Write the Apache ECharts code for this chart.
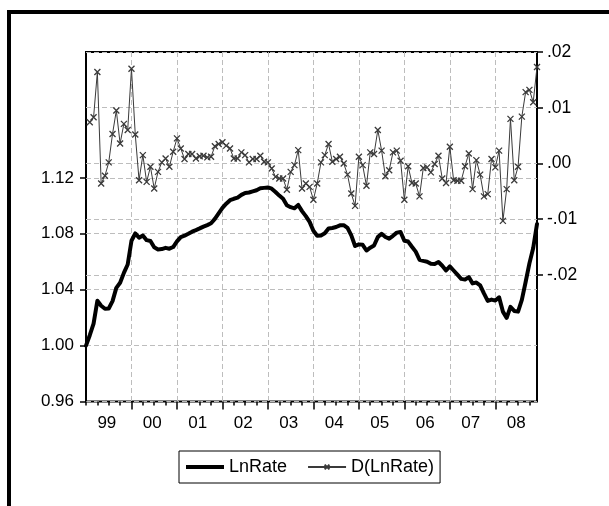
<!DOCTYPE html>
<html>
<head>
<meta charset="utf-8">
<title>LnRate and D(LnRate)</title>
<script src="https://cdn.jsdelivr.net/npm/echarts@6/dist/echarts.min.js"></script>
<style>
  html, body { margin: 0; padding: 0; background: #fff; }
  #chart { width: 609px; height: 506px; }
</style>
</head>
<body>
<div id="chart"></div>
<script>
// Monthly observations 1999M01 .. 2008M12 (index 0 .. 119)
const yearLabels = ['99', '00', '01', '02', '03', '04', '05', '06', '07', '08'];

// Log of the exchange rate, 1999M01 .. 2008M12
const lnRate = [
  1.0000, 1.0074, 1.0157, 1.0321, 1.0285, 1.0263, 1.0265, 1.0318, 1.0413, 1.0449, 1.0520, 1.0580,
  1.0750, 1.0802, 1.0772, 1.0787, 1.0754, 1.0748, 1.0703, 1.0688, 1.0690, 1.0699, 1.0693, 1.0705,
  1.0745, 1.0776, 1.0786, 1.0800, 1.0815, 1.0826, 1.0838, 1.0851, 1.0862, 1.0875, 1.0906, 1.0945,
  1.0985, 1.1015, 1.1040, 1.1050, 1.1058, 1.1078, 1.1092, 1.1095, 1.1103, 1.1111, 1.1125, 1.1128,
  1.1131, 1.1122, 1.1099, 1.1073, 1.1050, 1.1004, 1.0990, 1.0982, 1.1006, 1.0962, 1.0926, 1.0885,
  1.0821, 1.0786, 1.0788, 1.0803, 1.0838, 1.0841, 1.0848, 1.0860, 1.0861, 1.0842, 1.0788, 1.0712,
  1.0724, 1.0721, 1.0680, 1.0700, 1.0716, 1.0776, 1.0800, 1.0777, 1.0765, 1.0785, 1.0808, 1.0813,
  1.0750, 1.0744, 1.0707, 1.0672, 1.0614, 1.0606, 1.0600, 1.0585, 1.0584, 1.0598, 1.0571, 1.0537,
  1.0566, 1.0537, 1.0507, 1.0477, 1.0472, 1.0490, 1.0445, 1.0451, 1.0431, 1.0373, 1.0320, 1.0329,
  1.0322, 1.0345, 1.0243, 1.0198, 1.0277, 1.0248, 1.0243, 1.0327, 1.0455, 1.0588, 1.0698, 1.0870
];

// First difference, 1999M02 .. 2008M12
const dLnRate = [
          0.0074, 0.0083, 0.0164, -0.0036, -0.0022, 0.0002, 0.0053, 0.0095, 0.0036, 0.0071, 0.0060,
  0.0170, 0.0052, -0.0030, 0.0015, -0.0033, -0.0006, -0.0045, -0.0015, 0.0002, 0.0009, -0.0006, 0.0021,
  0.0045, 0.0027, 0.0008, 0.0017, 0.0017, 0.0009, 0.0013, 0.0014, 0.0011, 0.0012, 0.0031, 0.0035,
  0.0038, 0.0032, 0.0027, 0.0009, 0.0009, 0.0020, 0.0015, 0.0002, 0.0008, 0.0008, 0.0014, 0.0003,
  0.0002, -0.0009, -0.0024, -0.0027, -0.0027, -0.0047, -0.0015, -0.0003, 0.0024, -0.0045, -0.0036, -0.0042,
  -0.0065, -0.0036, 0.0002, 0.0015, 0.0035, 0.0003, 0.0008, 0.0012, 0.0000, -0.0020, -0.0054, -0.0076,
  0.0012, -0.0003, -0.0040, 0.0020, 0.0017, 0.0060, 0.0023, -0.0023, -0.0012, 0.0020, 0.0023, 0.0005,
  -0.0065, -0.0005, -0.0035, -0.0036, -0.0059, -0.0008, -0.0007, -0.0016, -0.0001, 0.0014, -0.0027, -0.0035,
  0.0030, -0.0030, -0.0031, -0.0031, -0.0005, 0.0018, -0.0046, 0.0006, -0.0020, -0.0059, -0.0055, 0.0008,
  -0.0007, 0.0023, -0.0103, -0.0046, 0.0080, -0.0030, -0.0006, 0.0084, 0.0128, 0.0132, 0.0110, 0.0173
];

// Axis ticks
const leftTicks = [0.96, 1.00, 1.04, 1.08, 1.12];
const rightTicks = [-0.02, -0.01, 0.00, 0.01, 0.02];
const yearStarts = [12, 24, 36, 48, 60, 72, 84, 96, 108];
const quarterTicks = [0, 3, 6, 9, 15, 18, 21, 27, 30, 33, 39, 42, 45, 51, 54, 57, 63, 66, 69,
  75, 78, 81, 87, 90, 93, 99, 102, 105, 111, 114, 117];
const yearCenters = [5.5, 17.5, 29.5, 41.5, 53.5, 65.5, 77.5, 89.5, 101.5, 113.5];

const FONT = "'Liberation Sans', Arial, sans-serif";
const gridDash = { color: '#bdbdbd', width: 1, type: [5, 3] };
const tickStyle = { color: '#000', width: 1.5 };
const noLine = { show: false, onZero: false };

const chart = echarts.init(document.getElementById('chart'), null, { renderer: 'canvas' });

chart.setOption({
  animation: false,
  backgroundColor: '#fff',
  graphic: [{
    type: 'rect',
    shape: { x: 9, y: 12, width: 700, height: 600 },
    style: { fill: 'none', stroke: '#000', lineWidth: 4 },
    silent: true
  }],
  grid: {
    left: 86, top: 52, width: 451, height: 349.5,
    show: true, borderColor: '#000', borderWidth: 2, backgroundColor: 'transparent'
  },
  xAxis: [
    { // quarter ticks
      type: 'value', min: 0, max: 119, position: 'bottom',
      axisLine: noLine,
      axisTick: { show: true, customValues: quarterTicks, length: 4, lineStyle: tickStyle },
      axisLabel: { show: false },
      splitLine: { show: false }
    },
    { // year boundaries with vertical grid
      type: 'value', min: 0, max: 119, position: 'bottom',
      axisLine: noLine,
      axisTick: { show: true, customValues: yearStarts, length: 8, lineStyle: tickStyle },
      axisLabel: { show: false },
      splitLine: { show: true, customValues: yearStarts, lineStyle: gridDash }
    },
    { // year labels
      type: 'value', min: 0, max: 119, position: 'bottom',
      axisLine: noLine,
      axisTick: { show: false },
      splitLine: { show: false },
      axisLabel: {
        show: true, customValues: yearCenters, margin: 13,
        fontSize: 17, fontFamily: FONT, color: '#000',
        formatter: v => yearLabels[Math.round((v - 5.5) / 12)]
      }
    }
  ],
  yAxis: [
    {
      type: 'value', position: 'left', min: 0.96, max: 1.21,
      axisLine: noLine,
      axisTick: { show: true, customValues: leftTicks, length: 6, lineStyle: tickStyle },
      axisLabel: {
        customValues: leftTicks, margin: 12, fontSize: 17, fontFamily: FONT, color: '#000',
        formatter: v => v.toFixed(2)
      },
      splitLine: { show: true, customValues: leftTicks, lineStyle: gridDash }
    },
    {
      type: 'value', position: 'right', min: -0.0427, max: 0.02,
      axisLine: noLine,
      axisTick: { show: true, customValues: rightTicks, length: 6, lineStyle: tickStyle },
      axisLabel: {
        customValues: rightTicks, margin: 10, fontSize: 17.5, fontFamily: FONT, color: '#000',
        formatter: v => v.toFixed(2).replace('0.', '.')
      },
      splitLine: { show: true, customValues: rightTicks, lineStyle: gridDash }
    }
  ],
  legend: {
    left: 179, top: 451,
    data: [
      { name: 'LnRate', icon: 'path://M0,0H38V4H0Z' },
      { name: 'D(LnRate)' }
    ],
    itemWidth: 38, itemHeight: 6, itemGap: 20,
    padding: [7, 6, 7, 7],
    borderColor: '#000', borderWidth: 1,
    textStyle: { fontSize: 18, fontFamily: FONT, color: '#000' }
  },
  series: [
    {
      name: 'D(LnRate)', type: 'line', xAxisIndex: 0, yAxisIndex: 1,
      data: dLnRate.map((v, k) => [k + 1, v]),
      showAllSymbol: true,
      symbol: 'path://M0,0L10,10M10,0L0,10', symbolSize: 6,
      itemStyle: { color: '#3a3a3a', borderColor: '#3a3a3a', borderWidth: 1.3 },
      lineStyle: { color: '#3a3a3a', width: 1 },
      z: 2
    },
    {
      name: 'LnRate', type: 'line', xAxisIndex: 0, yAxisIndex: 0,
      data: lnRate.map((v, i) => [i, v]),
      symbol: 'none',
      itemStyle: { color: '#000' },
      lineStyle: { color: '#000', width: 4, join: 'round', cap: 'round' },
      z: 3
    }
  ]
});
</script>
</body>
</html>
